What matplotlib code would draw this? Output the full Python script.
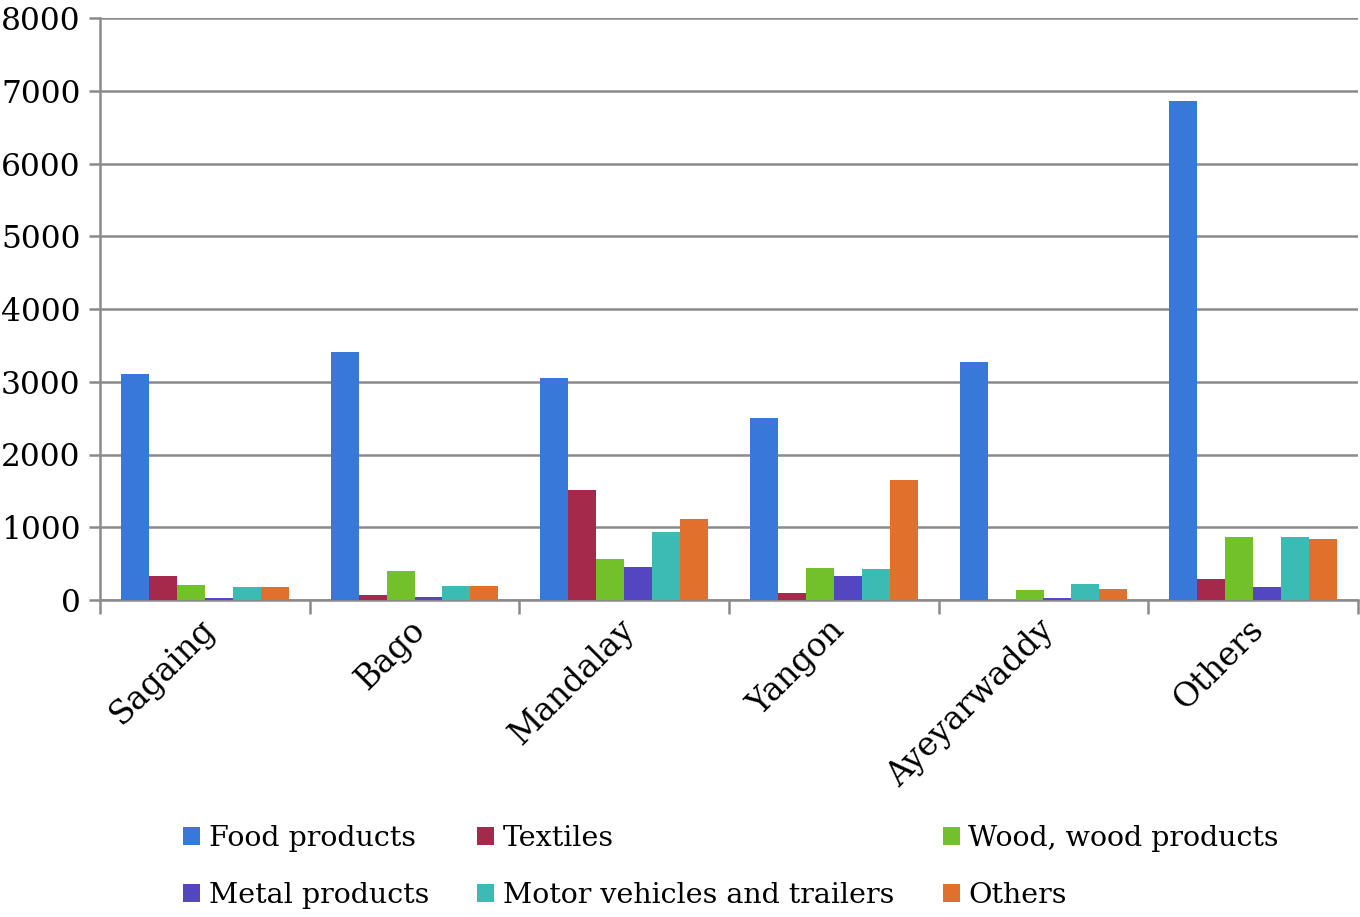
import matplotlib
matplotlib.use("Agg")
import matplotlib.pyplot as plt
import matplotlib.transforms as mtransforms
import numpy as np
from matplotlib.ticker import FixedLocator, NullFormatter

categories = ["Sagaing", "Bago", "Mandalay", "Yangon", "Ayeyarwaddy", "Others"]
series_names = ["Food products", "Textiles", "Wood, wood products",
                "Metal products", "Motor vehicles and trailers", "Others"]
food = [3110, 3410, 3055, 2505, 3275, 6855]
textiles = [335, 75, 1510, 95, 5, 290]
wood = [210, 400, 570, 445, 140, 865]
metal = [30, 42, 460, 325, 28, 182]
motor = [178, 192, 940, 428, 222, 865]
others = [182, 196, 1110, 1650, 155, 835]
yticks = [0, 1000, 2000, 3000, 4000, 5000, 6000, 7000, 8000]

colors = ["#3778D8", "#A5294A", "#72C12B", "#5446C0", "#3CBBB5", "#E2702D"]
values = [food, textiles, wood, metal, motor, others]

plt.rcParams['font.family'] = ['DejaVu Serif']
fig = plt.figure(figsize=(13.6, 9.17), dpi=100)
ax = fig.add_axes([100/1360, 1-600/917, 1258/1360, 582/917])

x = np.arange(len(categories))
bw = 0.8 / 6
handles = []
for i, (vals, c, name) in enumerate(zip(values, colors, series_names)):
    h = ax.bar(x - 0.4 + bw * (i + 0.5), vals, width=bw, color=c, label=name,
               zorder=3, linewidth=0)
    handles.append(h)

ax.set_xlim(-0.5, len(categories) - 0.5)
ax.set_ylim(0, 8000)
ax.set_yticks(yticks)
ax.set_yticklabels([str(t) for t in yticks], fontsize=22.5)
ax.yaxis.grid(True, color="#8a8a8a", linewidth=1.8, zorder=0)
ax.tick_params(axis='y', length=8, width=1.8, color="#8a8a8a", pad=6)

ax.set_xticks(x)
ax.set_xticklabels(categories, fontsize=23.5, rotation=45, ha='right',
                   rotation_mode='anchor')
ax.tick_params(axis='x', which='major', length=0, pad=10)
offset = mtransforms.ScaledTranslation(-6/100, 0, fig.dpi_scale_trans)
for lab in ax.get_xticklabels():
    lab.set_transform(lab.get_transform() + offset)
ax.xaxis.set_minor_locator(FixedLocator(np.arange(-0.5, len(categories), 1.0)))
ax.xaxis.set_minor_formatter(NullFormatter())
ax.tick_params(axis='x', which='minor', length=10, width=1.8, color="#8a8a8a")

for s in ['top', 'right']:
    ax.spines[s].set_visible(False)
for s in ['left', 'bottom']:
    ax.spines[s].set_color("#8a8a8a")
    ax.spines[s].set_linewidth(1.8)

order = [0, 3, 1, 4, 2, 5]
leg = fig.legend([handles[i] for i in order], [series_names[i] for i in order],
                 ncol=3, loc='lower left', bbox_to_anchor=(183/1360, 8/917),
                 frameon=False, fontsize=20.5, handlelength=0.6, handleheight=0.6,
                 handletextpad=0.3, columnspacing=1.7, labelspacing=1.05,
                 borderpad=0, borderaxespad=0)

fig.savefig("out.png", dpi=100)
